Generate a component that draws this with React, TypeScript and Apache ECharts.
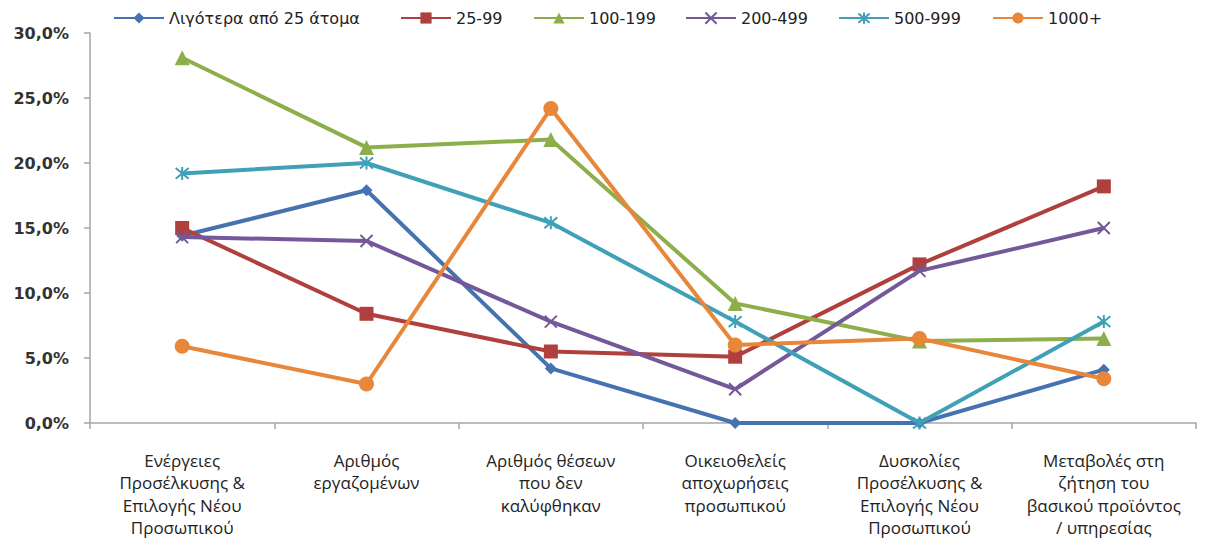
import React, { useEffect, useRef } from "react";
import * as echarts from "echarts";

const categories = [
  "Ενέργειες\nΠροσέλκυσης &\nΕπιλογής Νέου\nΠροσωπικού",
  "Αριθμός\nεργαζομένων",
  "Αριθμός θέσεων\nπου δεν\nκαλύφθηκαν",
  "Οικειοθελείς\nαποχωρήσεις\nπροσωπικού",
  "Δυσκολίες\nΠροσέλκυσης &\nΕπιλογής Νέου\nΠροσωπικού",
  "Μεταβολές στη\nζήτηση του\nβασικού προϊόντος\n/ υπηρεσίας",
];

const seriesNames = ["Λιγότερα από 25 άτομα", "25-99", "100-199", "200-499", "500-999", "1000+"];

const lt25 = [14.4, 17.9, 4.2, 0.0, 0.0, 4.1];
const s25_99 = [15.0, 8.4, 5.5, 5.1, 12.2, 18.2];
const s100_199 = [28.1, 21.2, 21.8, 9.2, 6.3, 6.5];
const s200_499 = [14.3, 14.0, 7.8, 2.6, 11.7, 15.0];
const s500_999 = [19.2, 20.0, 15.4, 7.8, 0.0, 7.8];
const s1000 = [5.9, 3.0, 24.2, 6.0, 6.5, 3.4];

const yTicks = { min: 0, max: 30, interval: 5 };

const colors = ["#4673B0", "#B0403D", "#8DAF4B", "#74589A", "#3FA0B8", "#E8863A"];
const symbols = [
  "diamond",
  "rect",
  "triangle",
  "path://M0,0L10,10M10,0L0,10",
  "path://M0,0L10,10M10,0L0,10M5,-1L5,11",
  "circle",
];
const symbolSizes = [12, 14, 15, 12, 13, 15];
const legendLefts = [113, 400, 533, 685, 838, 992];

export default function App() {
  const ref = useRef<HTMLDivElement>(null);
  useEffect(() => {
    if (!ref.current) return;
    const chart = echarts.init(ref.current, null, { renderer: "svg" });
    const allData = [lt25, s25_99, s100_199, s200_499, s500_999, s1000];
    const series = allData.map((d, i) => {
      const isStroke = i === 3 || i === 4;
      return {
        name: seriesNames[i],
        type: "line",
        data: d,
        symbol: symbols[i],
        symbolSize: symbolSizes[i],
        showAllSymbol: true,
        lineStyle: { color: colors[i], width: 4 },
        itemStyle: isStroke
          ? { color: "none", borderColor: colors[i], borderWidth: 2 }
          : { color: colors[i] },
        z: 2 + i,
      };
    });
    const legends = seriesNames.map((n, i) => ({
      data: [n],
      left: legendLefts[i],
      top: 10,
      itemWidth: 50,
      itemHeight: 14,
      itemGap: 2,
      textStyle: { fontFamily: "DejaVu Sans", fontSize: 16, color: "#222" },
      padding: 0,
    }));
    chart.setOption({
      animation: false,
      backgroundColor: "#ffffff",
      color: colors,
      legend: legends,
      grid: {
        left: 90,
        right: 9,
        top: 33,
        bottom: 117,
        containLabel: false,
        outerBoundsMode: "none",
      },
      xAxis: {
        type: "category",
        data: categories,
        boundaryGap: true,
        axisLine: { show: true, lineStyle: { color: "#a6a6a6", width: 1.5 } },
        axisTick: { show: true, length: 6, lineStyle: { color: "#a6a6a6", width: 1.5 } },
        axisLabel: {
          interval: 0,
          margin: 26,
          fontFamily: "Open Sans",
          fontSize: 17,
          lineHeight: 22.5,
          color: "#222",
          align: "center",
        },
        splitLine: { show: false },
      },
      yAxis: {
        type: "value",
        min: yTicks.min,
        max: yTicks.max,
        interval: yTicks.interval,
        axisLine: { show: true, lineStyle: { color: "#a6a6a6", width: 1.5 } },
        axisTick: { show: true, length: 6, lineStyle: { color: "#a6a6a6", width: 1.5 } },
        splitLine: { show: false },
        axisLabel: {
          margin: 21,
          fontFamily: "DejaVu Sans",
          fontSize: 16,
          fontWeight: "bold",
          color: "#333",
          formatter: (v: number) => v.toFixed(1).replace(".", ",") + "%",
        },
      },
      series,
    });
    return () => chart.dispose();
  }, []);
  return (
    <div
      ref={ref}
      style={{ position: "absolute", left: 0, top: 0, width: 1205, height: 540, background: "#fff" }}
    />
  );
}
